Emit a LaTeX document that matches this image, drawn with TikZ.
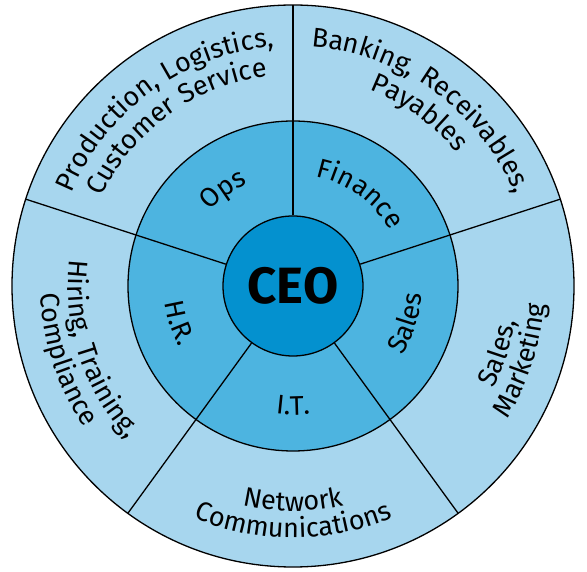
\documentclass[tikz,border=0pt]{standalone}
\usepackage{fontspec}
\setmainfont{Fira Sans}
\newfontfamily\ringfamily{Fira Sans}[LetterSpace=5]
\usetikzlibrary{decorations.text}
\newcommand\ringfont{\ringfamily\fontsize{27}{30}\selectfont}
\newcommand\bossfont{\fontsize{51}{56}\selectfont\bfseries}
\definecolor{outerblue}{RGB}{167,214,238}
\definecolor{midblue}{RGB}{77,180,224}
\definecolor{ceoblue}{RGB}{4,145,207}

\begin{document}
\begin{tikzpicture}[x=1pt,y=1pt,line width=1.3pt,
    ring/.style={decorate,decoration={text along path,text align=center,text={|\ringfont|#1}}}]
    \path [use as bounding box] (-293,-286) rectangle (294,286);
    \coordinate (O) at (0,0);
    \draw[fill=outerblue] (O) circle (281);
    \draw[fill=midblue] (O) circle (165);
    \node[circle,draw,fill=ceoblue,minimum size=140,inner sep=0pt,font=\bossfont] (ceo) at (O) {CEO};
    \foreach \a in {90,18,-54,-126,162}
        \draw (ceo.\a) -- (\a:281);
    \path[ring={Production, Logistics,}] (162:240) arc (162:90:240);
    \path[ring={Customer Service}]       (162:211) arc (162:90:211);
    \path[ring={Banking, Receivables,}]  (90:240) arc (90:18:240);
    \path[ring={Payables}]               (90:211) arc (90:18:211);
    \path[ring={Sales,}]                 (-54:225) arc (-54:18:225);
    \path[ring={Marketing}]              (-54:252) arc (-54:18:252);
    \path[ring={Network}]                (-126:225) arc (-126:-54:225);
    \path[ring={Communications}]         (-126:252) arc (-126:-54:252);
    \path[ring={Hiring, Training,}]      (162:225) arc (162:234:225);
    \path[ring={Compliance}]             (162:252) arc (162:234:252);
    \path[ring={Ops}]                    (162:112) arc (162:90:112);
    \path[ring={Finance}]                (90:112) arc (90:18:112);
    \path[ring={Sales}]                  (-54:129) arc (-54:18:129);
    \path[ring={I.T.}]                   (-126:129) arc (-126:-54:129);
    \path[ring={H.R.}]                   (162:129) arc (162:234:129);
\end{tikzpicture}
\end{document}
